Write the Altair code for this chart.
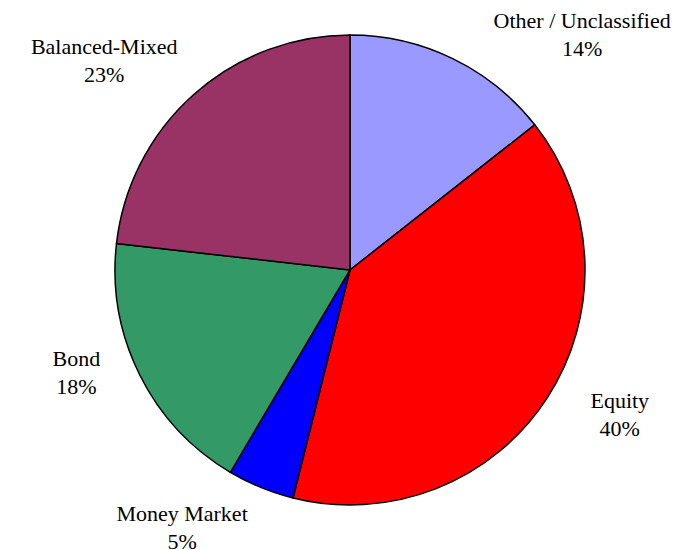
import altair as alt
import pandas as pd

categories = ["Other / Unclassified", "Equity", "Money Market", "Bond", "Balanced-Mixed"]
values = [14.4, 39.5, 4.6, 18.3, 23.2]
pct_labels = ["14%", "40%", "5%", "18%", "23%"]
colors = ["#9999FF", "#FF0000", "#0000FF", "#339966", "#993366"]

df = pd.DataFrame({
    "category": categories,
    "value": values,
    "order": list(range(len(categories))),
    "label": [c + "\n" + p for c, p in zip(categories, pct_labels)],
})

CX, CY = 342, 262
R = 235

pie = alt.Chart(df).mark_arc(stroke="black", strokeWidth=1.5, outerRadius=R).encode(
    theta=alt.Theta("value:Q", stack=True),
    order=alt.Order("order:Q"),
    x=alt.value(CX),
    y=alt.value(CY),
    color=alt.Color("category:N", scale=alt.Scale(domain=categories, range=colors), legend=None),
)

offsets = {
    "Other / Unclassified": (101, 21),
    "Equity": (18, -32),
    "Money Market": (-54, -34),
    "Bond": (-5, -45),
    "Balanced-Mixed": (-46, 1),
}

label_layers = []
for cat in categories:
    dx, dy = offsets[cat]
    label_layers.append(
        alt.Chart(df).transform_window(
            cum="sum(value)", frame=[None, 0], sort=[alt.SortField("order")]
        ).transform_calculate(
            mid="datum.cum - datum.value / 2"
        ).transform_filter(
            alt.datum.category == cat
        ).mark_text(
            font="Liberation Serif", fontSize=22, lineBreak="\n", lineHeight=28,
            align="center", baseline="middle", color="black", dx=dx, dy=dy,
        ).encode(
            theta=alt.Theta("mid:Q", stack=None),
            x=alt.value(CX),
            y=alt.value(CY),
            radius=alt.value(300),
            text="label:N",
        )
    )

chart = alt.layer(pie, *label_layers).properties(
    width=663, height=542, padding=0,
    autosize=alt.AutoSizeParams(type="none"),
).configure_view(stroke=None)

chart.save("out.html", embed_options={"renderer": "svg", "actions": False})
